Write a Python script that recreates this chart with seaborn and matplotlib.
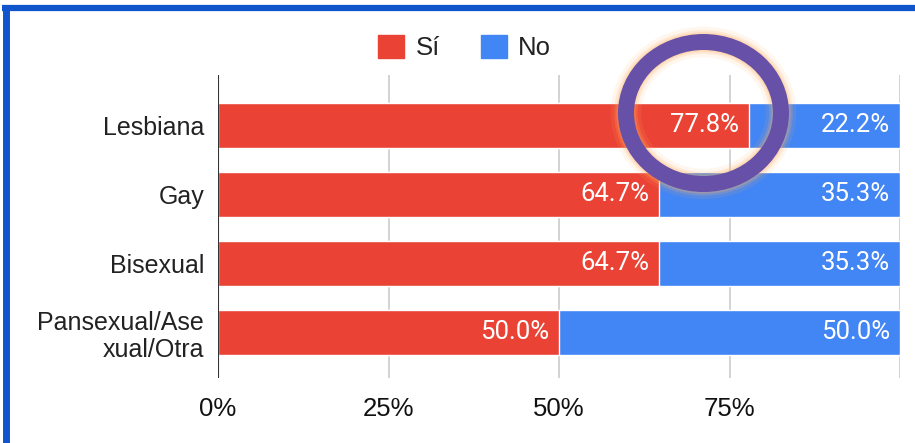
import matplotlib
matplotlib.use("Agg")
import matplotlib.pyplot as plt
import seaborn as sns
import pandas as pd
from matplotlib.patches import Rectangle, Ellipse
from matplotlib.lines import Line2D

categories = ["Lesbiana", "Gay", "Bisexual", "Pansexual/Ase\nxual/Otra"]
si_values = [77.8, 64.7, 64.7, 50.0]
no_values = [22.2, 35.3, 35.3, 50.0]
x_ticks = [0, 25, 50, 75, 100]
x_tick_labels = ["0%", "25%", "50%", "75%", ""]
series_names = ["Sí", "No"]

RED = "#EA4335"
BLUE = "#4285F4"

sns.set_theme(style="white")
plt.rcParams["font.family"] = ["Liberation Sans", "DejaVu Sans"]

df = pd.DataFrame({"cat": categories, "si": si_values, "no": no_values})
df["total"] = df["si"] + df["no"]

fig = plt.figure(figsize=(9.15, 4.43), dpi=100)
ax = fig.add_axes([218 / 915, 1 - 378 / 443, (900 - 218) / 915, (378 - 75) / 443])

sns.barplot(data=df, x="total", y="cat", orient="h", color=BLUE, width=0.65,
            saturation=1, ax=ax, zorder=3)
sns.barplot(data=df, x="si", y="cat", orient="h", color=RED, width=0.65,
            saturation=1, ax=ax, zorder=4)

ax.set_xlim(0, 100)
ax.set_ylim(3.66, -0.73)
ax.set_xticks(x_ticks)
ax.set_xticklabels(x_tick_labels, fontsize=18.5, color="#111111")
ax.tick_params(axis="x", length=0, pad=14)
ax.tick_params(axis="y", length=0, pad=10, labelsize=18, labelcolor="#222222")
for lbl in ax.get_yticklabels():
    lbl.set_horizontalalignment("right")
    lbl.set_linespacing(1.15)
ax.set_xlabel("")
ax.set_ylabel("")
for s in ax.spines.values():
    s.set_visible(False)
ax.grid(axis="x", color="#CCCCCC", linewidth=1.2, zorder=0)
ax.grid(axis="y", visible=False)
ax.axvline(0, color="#333333", linewidth=1.5, zorder=5)

for i, (s, n) in enumerate(zip(si_values, no_values)):
    ax.annotate(f"{s:.1f}%", xy=(s, i), xytext=(-7, 0), textcoords="offset points",
                ha="right", va="center", color="white", fontsize=18.5,
                family=["Roboto", "DejaVu Sans"], zorder=6)
    ax.annotate(f"{n:.1f}%", xy=(s + n, i), xytext=(-7, 0), textcoords="offset points",
                ha="right", va="center", color="white", fontsize=18.5,
                family=["Roboto", "DejaVu Sans"], zorder=6)

handles = [Rectangle((0, 0), 1, 1, color=RED), Rectangle((0, 0), 1, 1, color=BLUE)]
fig.legend(handles, series_names, loc="center", bbox_to_anchor=(0.508, 0.892),
           ncol=2, frameon=False, fontsize=18.5, handlelength=1.0, handleheight=1.0,
           handletextpad=0.45, columnspacing=1.6, labelcolor="#222222")

# annotation ring
cx, cy = 703.5 / 915, 1 - 113 / 443
w, h = 155 / 915, 142 / 443
for lw, a in [(22, 0.10), (17, 0.18), (14, 0.25)]:
    fig.add_artist(Ellipse((cx, cy), w, h, transform=fig.transFigure, fill=False,
                           edgecolor="#FFB060", linewidth=lw, alpha=a, zorder=10))
fig.add_artist(Ellipse((cx, cy), w, h, transform=fig.transFigure, fill=False,
                       edgecolor="#6650A8", linewidth=11.5, zorder=11))

# blue frame (top and left)
fig.add_artist(Line2D([2 / 915, 1], [1 - 8 / 443, 1 - 8 / 443], transform=fig.transFigure,
                      color="#1155CC", linewidth=4.5, solid_capstyle="butt"))
fig.add_artist(Line2D([5.5 / 915, 5.5 / 915], [0, 1 - 5 / 443], transform=fig.transFigure,
                      color="#1155CC", linewidth=5, solid_capstyle="butt"))

fig.savefig("out.png", dpi=100)
